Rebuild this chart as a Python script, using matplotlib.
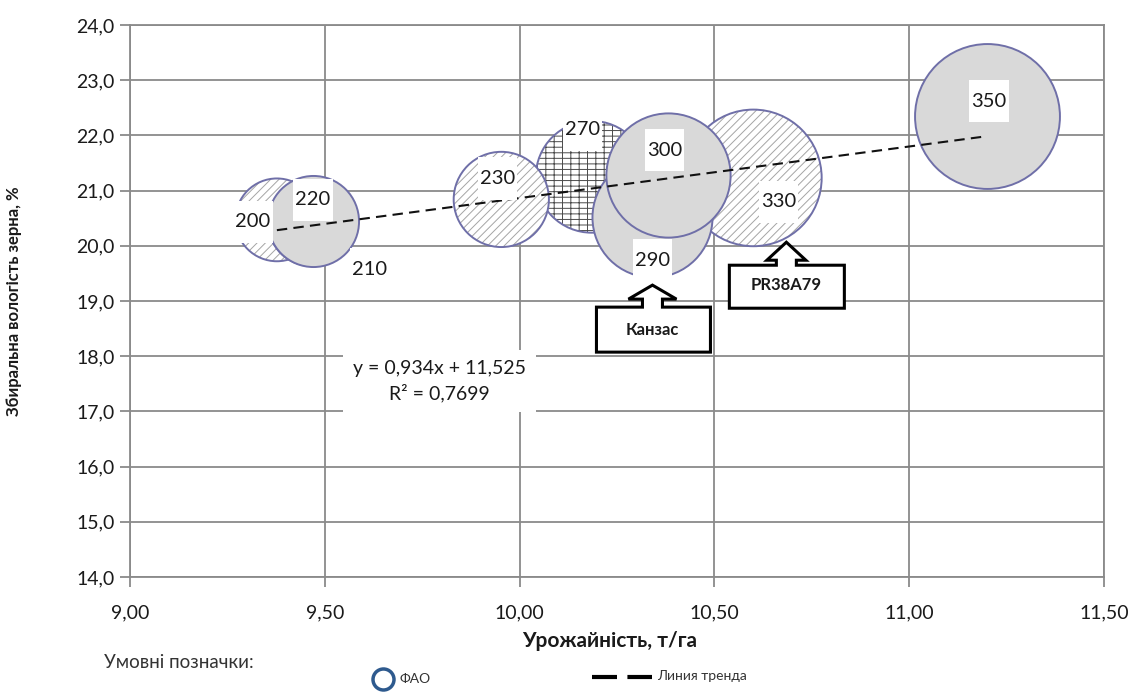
import matplotlib
matplotlib.use("Agg")
import matplotlib.pyplot as plt
import matplotlib.transforms as mtransforms
from matplotlib.patches import Polygon
import numpy as np

plt.rcParams['font.family'] = ['Lato', 'DejaVu Sans']
plt.rcParams['hatch.linewidth'] = 0.7

# ---------------- data ----------------
fao = [350, 330, 270, 230, 200, 210, 220, 290, 300]          # bubble labels / sizes
yield_t = [11.20, 10.60, 10.185, 9.953, 9.377, 9.465, 9.47, 10.341, 10.382]
moisture = [22.35, 21.23, 21.25, 20.84, 20.47, 20.44, 20.45, 20.52, 21.28]
fill_type = ['grey', 'dash', 'brick', 'dash', 'dash', 'grey', 'grey', 'grey', 'grey']
# label offsets in pixels (dx, dy) relative to bubble centre
label_dx = [2, 25, -9, -4, -24, 58, 0, 0, -4]
label_dy = [15, -24, 47, 21, -2, -48, 21, -43, 25]

trend_slope = 0.934
trend_intercept = 11.525
r_squared = "0,7699"

x_ticks = [9.0, 9.5, 10.0, 10.5, 11.0, 11.5]
y_ticks = list(range(14, 25))

callout_names = ["Канзас", "PR38A79"]
callout_fao = [290, 330]

# ---------------- figure ----------------
W, H = 1135, 693
fig = plt.figure(figsize=(W / 100, H / 100), dpi=100)
ax = fig.add_axes([130 / W, (H - 577) / H, (1104 - 130) / W, (577 - 25) / H])
ax.set_xlim(9.0, 11.5)
ax.set_ylim(14.0, 24.0)

gridc = '#8a8a8a'
ax.set_xticks(x_ticks)
ax.set_xticklabels([f"{t:.2f}".replace('.', ',') for t in x_ticks])
ax.set_yticks(y_ticks)
ax.set_yticklabels([f"{t:.1f}".replace('.', ',') for t in y_ticks])
ax.grid(True, color=gridc, linewidth=1.3, zorder=0)
ax.set_axisbelow(True)
for s in ax.spines.values():
    s.set_color(gridc)
    s.set_linewidth(1.3)
ax.tick_params(direction='out', length=7, width=1.3, color=gridc,
               labelsize=14, labelcolor='#1a1a1a')
ax.tick_params(axis='x', pad=13)
ax.tick_params(axis='y', pad=4)

ax.set_xlabel("Урожайність, т/га", fontsize=15, fontweight='bold', color='#1a1a1a')
ax.xaxis.label.set_va('center')
ax.xaxis.set_label_coords((610 - 130) / 974, (577 - 641) / 552)
ax.set_ylabel("Збиральна вологість зерна, %", fontsize=12, fontweight='bold', color='#1a1a1a')
ax.yaxis.set_label_coords(-0.111, 0.50)

# ---------------- bubbles ----------------
RSCALE = 0.207   # px of radius per FAO unit
def s_from_r(r_px):
    d_pt = 2 * r_px * 0.72
    return d_pt ** 2

outline = '#6f6fa8'
z = 2
for v, x, y, ft in zip(fao, yield_t, moisture, fill_type):
    s = s_from_r(RSCALE * v)
    if ft == 'grey':
        ax.scatter([x], [y], s=s, facecolor='#d9d9d9', edgecolor=outline,
                   linewidths=1.4, zorder=z)
    else:
        hc = '#a5a5a5' if ft == 'dash' else '#4a4a4a'
        hp = '////' if ft == 'dash' else '---||'
        with plt.rc_context({'hatch.color': hc}):
            ax.scatter([x], [y], s=s, facecolor='white', edgecolor=hc,
                       hatch=hp, linewidths=0, zorder=z)
        ax.scatter([x], [y], s=s, facecolor='none', edgecolor=outline,
                   linewidths=1.4, zorder=z + 0.5)
    z += 1

# ---------------- trend line ----------------
xt = np.array([min(yield_t), max(yield_t)])
ax.plot(xt, trend_slope * xt + trend_intercept, color='#111111', lw=1.5,
        dashes=(5, 3), zorder=30)

# ---------------- bubble labels ----------------
for v, x, y, dx, dy in zip(fao, yield_t, moisture, label_dx, label_dy):
    ax.annotate(f"\n{v}\n", (x, y), xytext=(dx * 0.72, dy * 0.72),
                textcoords='offset points', ha='center', va='center',
                fontsize=14.5, color='#1a1a1a', linespacing=0.55, zorder=40,
                bbox=dict(boxstyle='square,pad=0.1', fc='white', ec='none'))

# ---------------- equation ----------------
eq_x = 9.0 + (440 - 130) / 390
eq_y = 24.0 - (381 - 25) / 55.2
ax.text(eq_x, eq_y,
        f"y = {trend_slope:.3f}x + {trend_intercept:.3f}".replace('.', ',') + f"\nR² = {r_squared}",
        ha='center', va='center', fontsize=14, color='#1a1a1a', linespacing=1.4,
        zorder=40, bbox=dict(boxstyle='square,pad=0.5', fc='white', ec='none'))

# ---------------- callouts ----------------
shapes = {
    "Канзас": dict(anchor_dx=0, anchor_dy_extra=8, hw=24, hb=14, sw=10, st=22,
                   bl=-56, br=58, bb=67, tdy=-45),
    "PR38A79": dict(anchor_dx=33, anchor_dy_extra=-4, hw=19.5, hb=18, sw=10, st=23,
                    bl=-57, br=58, bb=66, tdy=-43),
}
for name, fv in zip(callout_names, callout_fao):
    i = fao.index(fv)
    sh = shapes[name]
    r = RSCALE * fv
    base = mtransforms.ScaledTranslation(yield_t[i], moisture[i], ax.transData)
    off = mtransforms.Affine2D().translate(sh['anchor_dx'], -(r + sh['anchor_dy_extra']))
    tr = off + base
    hw, hb, sw, st, bl, br, bb = sh['hw'], sh['hb'], sh['sw'], sh['st'], sh['bl'], sh['br'], sh['bb']
    verts = [(0, 0), (hw, -hb), (sw, -hb), (sw, -st), (br, -st), (br, -bb),
             (bl, -bb), (bl, -st), (-sw, -st), (-sw, -hb), (-hw, -hb)]
    ax.add_patch(Polygon(verts, closed=True, fc='white', ec='black', lw=2.2,
                         transform=tr, zorder=45, clip_on=False, joinstyle='miter'))
    ax.text(0, sh['tdy'], name, transform=tr, ha='center', va='center',
            fontsize=12, fontweight='bold', color='#1a1a1a', zorder=46)

# ---------------- legend row ----------------
leg_ax = fig.add_axes([0, 0, 1, 1], facecolor='none')
leg_ax.set_xlim(0, W)
leg_ax.set_ylim(H, 0)
leg_ax.axis('off')
leg_ax.text(104, 662, "Умовні позначки:", fontsize=13.5, color='#333333',
            va='center', ha='left')
leg_ax.scatter([383], [679], s=s_from_r(10.5), facecolor='white', edgecolor='#2e5a8e',
               linewidths=2.5)
leg_ax.text(400, 679, "ФАО", fontsize=10, va='center', ha='left', color='#333333')
leg_ax.plot([592, 652], [677, 677], color='black', lw=3, dashes=(6, 2.5))
leg_ax.text(657, 676, "Линия тренда", fontsize=10, va='center', ha='left', color='#333333')

fig.savefig("out.png", dpi=100)
